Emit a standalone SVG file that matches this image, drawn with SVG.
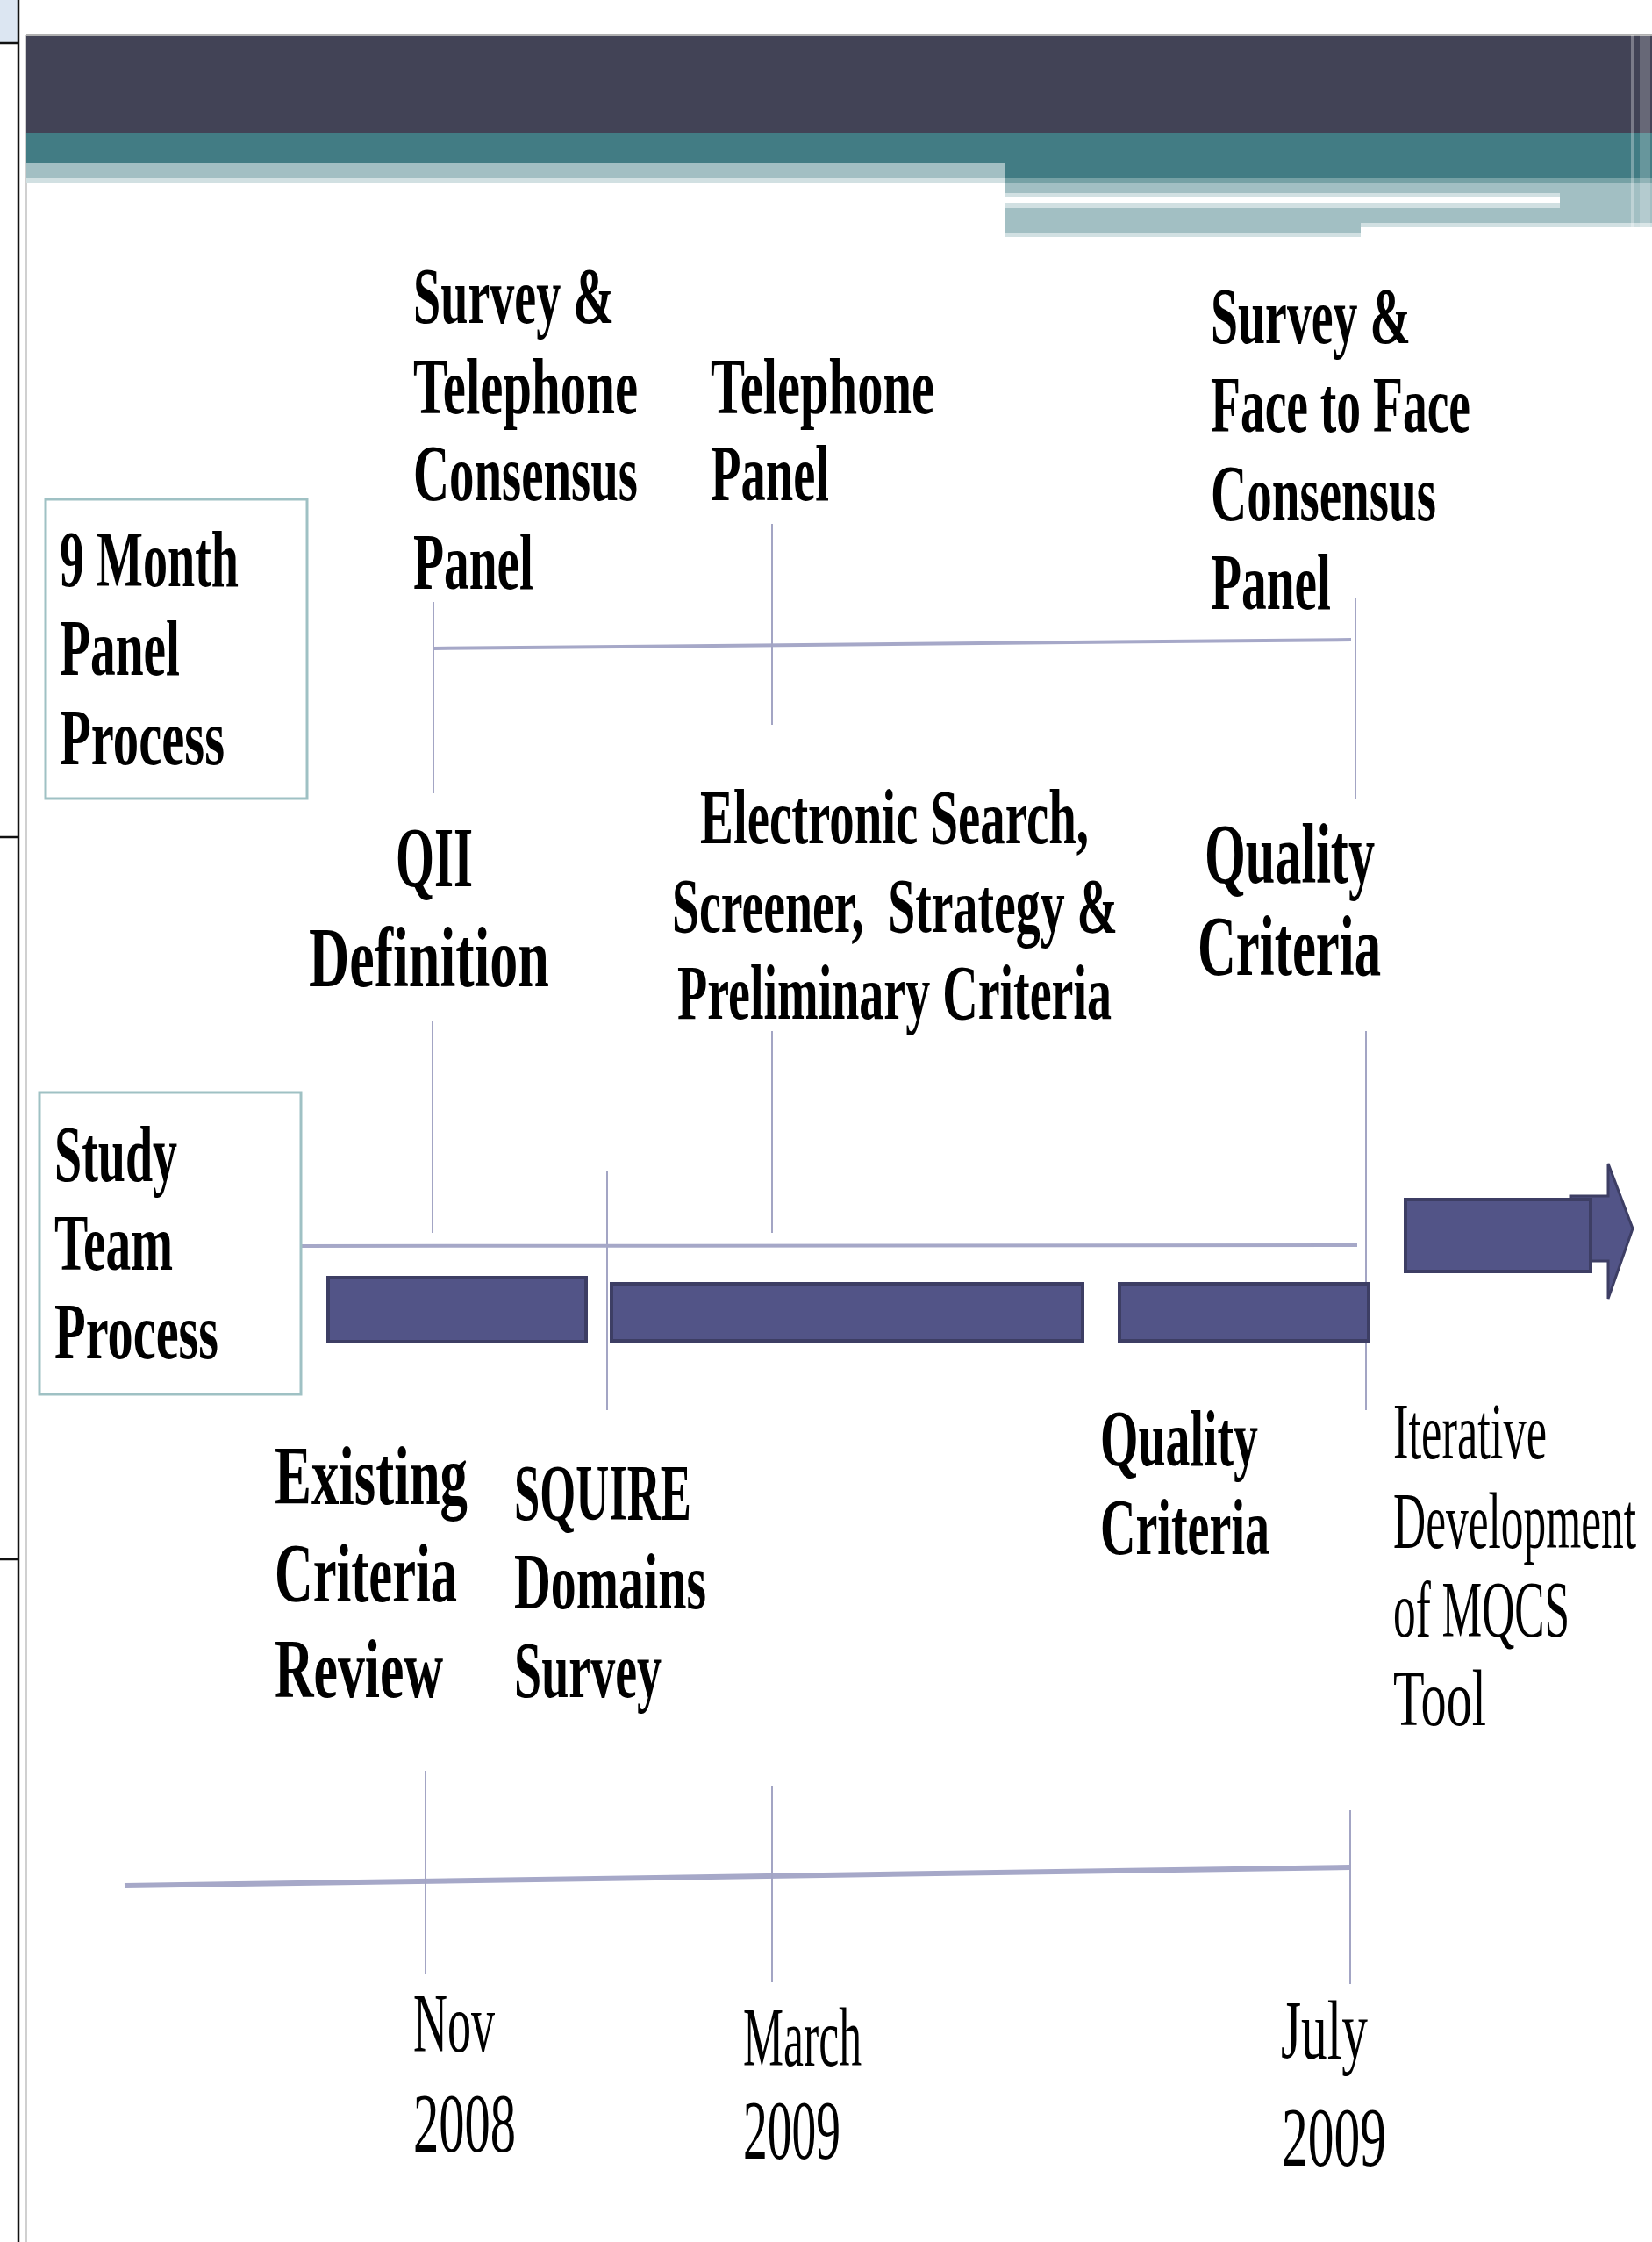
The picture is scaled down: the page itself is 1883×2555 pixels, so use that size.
<svg xmlns="http://www.w3.org/2000/svg" width="1883" height="2555" viewBox="0 0 1883 2555">
<style>
.t{font-family:"Liberation Serif","Times New Roman",serif;font-weight:bold;fill:#000}
.n{font-family:"Liberation Serif","Times New Roman",serif;font-weight:normal;fill:#000}
.ln{stroke:#a3a5c4;stroke-width:2;fill:none}
.hl{stroke:#a6a8c8;stroke-width:4;fill:none}
.box{fill:#fff;stroke:#9fc1c4;stroke-width:3}
.bar{fill:#525487;stroke:#3d3e64;stroke-width:4}
</style>
<rect width="1883" height="2555" fill="#fff"/>
<g id="frame">
<rect x="0" y="0" width="21" height="48" fill="#dce6f2"/>
<line x1="21" y1="0" x2="21" y2="2555" stroke="#111" stroke-width="2.5"/>
<line x1="0" y1="49" x2="21" y2="49" stroke="#111" stroke-width="2.5"/>
<line x1="0" y1="954" x2="21" y2="954" stroke="#111" stroke-width="2.5"/>
<line x1="0" y1="1777" x2="21" y2="1777" stroke="#111" stroke-width="2.5"/>
<line x1="30" y1="40" x2="30" y2="2555" stroke="#c0c0c0" stroke-width="1.5"/>
</g>
<g id="header">
<rect x="30" y="40" width="1853" height="112" fill="#424356"/>
<line x1="30" y1="40" x2="1883" y2="40" stroke="#b0b0b0" stroke-width="2"/>
<rect x="30" y="152" width="1853" height="34" fill="#427c84"/>
<rect x="1145" y="186" width="738" height="17" fill="#427c84"/>
<rect x="30" y="186" width="1115" height="17" fill="#a2bfc3"/>
<rect x="30" y="203" width="1115" height="6" fill="#d1e0e2"/>
<rect x="1145" y="203" width="738" height="6" fill="#76a1a5"/>
<rect x="1145" y="209" width="738" height="45" fill="#a2bfc3"/>
<rect x="1145" y="220" width="633" height="5" fill="#d1e0e2"/>
<rect x="1145" y="225" width="633" height="6" fill="#fff"/>
<rect x="1145" y="231" width="633" height="6" fill="#d1e0e2"/>
<rect x="1145" y="254" width="406" height="11" fill="#a2bfc3"/>
<rect x="1145" y="265" width="406" height="5" fill="#d1e0e2"/>
<rect x="1551" y="254" width="332" height="5" fill="#d1e0e2"/>
<rect x="1859" y="40" width="4" height="219" fill="#fff" opacity="0.3"/>
<rect x="1869" y="40" width="12" height="219" fill="#fff" opacity="0.2"/>
</g>
<g id="connectors">
<line class="hl" x1="494" y1="739" x2="1540" y2="729"/>
<line class="ln" x1="494" y1="686" x2="494" y2="904"/>
<line class="ln" x1="880" y1="597" x2="880" y2="826"/>
<line class="ln" x1="1545" y1="682" x2="1545" y2="910"/>
<line class="ln" x1="493" y1="1164" x2="493" y2="1405"/>
<line class="ln" x1="880" y1="1175" x2="880" y2="1405"/>
<line class="ln" x1="692" y1="1334" x2="692" y2="1607"/>
<line class="ln" x1="1557" y1="1175" x2="1557" y2="1607"/>
<line class="hl" x1="343" y1="1420" x2="1547" y2="1419"/>
<line x1="142" y1="2149" x2="1539" y2="2128" stroke="#a6a8c8" stroke-width="6"/>
<line class="ln" x1="485" y1="2018" x2="485" y2="2250"/>
<line class="ln" x1="880" y1="2035" x2="880" y2="2259"/>
<line class="ln" x1="1539" y1="2063" x2="1539" y2="2261"/>
</g>
<g id="panel-box">
<rect class="box" x="52" y="569" width="298" height="341"/>
<text class="t" font-size="90"><tspan x="68" y="668" textLength="204" lengthAdjust="spacingAndGlyphs">9 Month</tspan><tspan x="68" y="769" textLength="137" lengthAdjust="spacingAndGlyphs">Panel</tspan><tspan x="68" y="871" textLength="188" lengthAdjust="spacingAndGlyphs">Process</tspan></text>
</g>
<g id="study-box">
<rect class="box" x="45" y="1245" width="298" height="344"/>
<text class="t" font-size="90"><tspan x="62" y="1346" textLength="140" lengthAdjust="spacingAndGlyphs">Study</tspan><tspan x="62" y="1447" textLength="135" lengthAdjust="spacingAndGlyphs">Team</tspan><tspan x="62" y="1548" textLength="187" lengthAdjust="spacingAndGlyphs">Process</tspan></text>
</g>
<g id="survey-telephone">
<text class="t" font-size="90"><tspan x="471" y="368" textLength="229" lengthAdjust="spacingAndGlyphs">Survey &amp;</tspan><tspan x="471" y="471" textLength="256" lengthAdjust="spacingAndGlyphs">Telephone</tspan><tspan x="471" y="570" textLength="256" lengthAdjust="spacingAndGlyphs">Consensus</tspan><tspan x="471" y="671" textLength="137" lengthAdjust="spacingAndGlyphs">Panel</tspan></text>
</g>
<g id="telephone-panel">
<text class="t" font-size="90"><tspan x="810" y="471" textLength="255" lengthAdjust="spacingAndGlyphs">Telephone</tspan><tspan x="810" y="570" textLength="135" lengthAdjust="spacingAndGlyphs">Panel</tspan></text>
</g>
<g id="survey-face">
<text class="t" font-size="90"><tspan x="1380" y="391" textLength="228" lengthAdjust="spacingAndGlyphs">Survey &amp;</tspan><tspan x="1380" y="492" textLength="296" lengthAdjust="spacingAndGlyphs">Face to Face</tspan><tspan x="1380" y="593" textLength="257" lengthAdjust="spacingAndGlyphs">Consensus</tspan><tspan x="1380" y="694" textLength="137" lengthAdjust="spacingAndGlyphs">Panel</tspan></text>
</g>
<g id="qii">
<text class="t" font-size="98"><tspan x="451" y="1010" textLength="88" lengthAdjust="spacingAndGlyphs">QII</tspan><tspan x="352" y="1124" textLength="274" lengthAdjust="spacingAndGlyphs">Definition</tspan></text>
</g>
<g id="electronic">
<text class="t" font-size="88" style="white-space:pre"><tspan x="798" y="961" textLength="443" lengthAdjust="spacingAndGlyphs">Electronic Search,</tspan><tspan x="766" y="1062" textLength="508" lengthAdjust="spacingAndGlyphs">Screener,  Strategy &amp;</tspan><tspan x="772" y="1161" textLength="495" lengthAdjust="spacingAndGlyphs">Preliminary Criteria</tspan></text>
</g>
<g id="quality-upper">
<text class="t" font-size="98"><tspan x="1373" y="1006" textLength="194" lengthAdjust="spacingAndGlyphs">Quality</tspan><tspan x="1365" y="1111" textLength="209" lengthAdjust="spacingAndGlyphs">Criteria</tspan></text>
</g>
<g id="bars">
<rect class="bar" x="374" y="1456" width="294" height="73"/>
<rect class="bar" x="697" y="1463" width="537" height="65"/>
<rect class="bar" x="1276" y="1463" width="284" height="65"/>
</g>
<g id="arrow">
<polygon points="1790,1363 1833,1363 1833,1326 1861,1400 1833,1480 1833,1437 1790,1437" fill="#525487" stroke="#3d3e64" stroke-width="3"/>
<rect class="bar" x="1602" y="1367" width="211" height="82"/>
</g>
<g id="existing">
<text class="t" font-size="96"><tspan x="313" y="1714" textLength="220" lengthAdjust="spacingAndGlyphs">Existing</tspan><tspan x="313" y="1825" textLength="208" lengthAdjust="spacingAndGlyphs">Criteria</tspan><tspan x="313" y="1934" textLength="192" lengthAdjust="spacingAndGlyphs">Review</tspan></text>
</g>
<g id="squire">
<text class="t" font-size="90"><tspan x="586" y="1732" textLength="202" lengthAdjust="spacingAndGlyphs">SQUIRE</tspan><tspan x="586" y="1833" textLength="219" lengthAdjust="spacingAndGlyphs">Domains</tspan><tspan x="586" y="1934" textLength="168" lengthAdjust="spacingAndGlyphs">Survey</tspan></text>
</g>
<g id="quality-lower">
<text class="t" font-size="90"><tspan x="1254" y="1670" textLength="180" lengthAdjust="spacingAndGlyphs">Quality</tspan><tspan x="1254" y="1771" textLength="193" lengthAdjust="spacingAndGlyphs">Criteria</tspan></text>
</g>
<g id="iterative">
<text class="n" font-size="90"><tspan x="1588" y="1662" textLength="175" lengthAdjust="spacingAndGlyphs">Iterative</tspan><tspan x="1588" y="1764" textLength="277" lengthAdjust="spacingAndGlyphs">Development</tspan><tspan x="1588" y="1865" textLength="201" lengthAdjust="spacingAndGlyphs">of MQCS</tspan><tspan x="1588" y="1966" textLength="106" lengthAdjust="spacingAndGlyphs">Tool</tspan></text>
</g>
<g id="dates">
<text class="n" font-size="96"><tspan x="471" y="2338" textLength="93" lengthAdjust="spacingAndGlyphs">Nov</tspan><tspan x="471" y="2452" textLength="117" lengthAdjust="spacingAndGlyphs">2008</tspan></text>
<text class="n" font-size="96"><tspan x="847" y="2354" textLength="135" lengthAdjust="spacingAndGlyphs">March</tspan><tspan x="847" y="2460" textLength="111" lengthAdjust="spacingAndGlyphs">2009</tspan></text>
<text class="n" font-size="96"><tspan x="1460" y="2346" textLength="99" lengthAdjust="spacingAndGlyphs">July</tspan><tspan x="1461" y="2468" textLength="119" lengthAdjust="spacingAndGlyphs">2009</tspan></text>
</g>
</svg>
